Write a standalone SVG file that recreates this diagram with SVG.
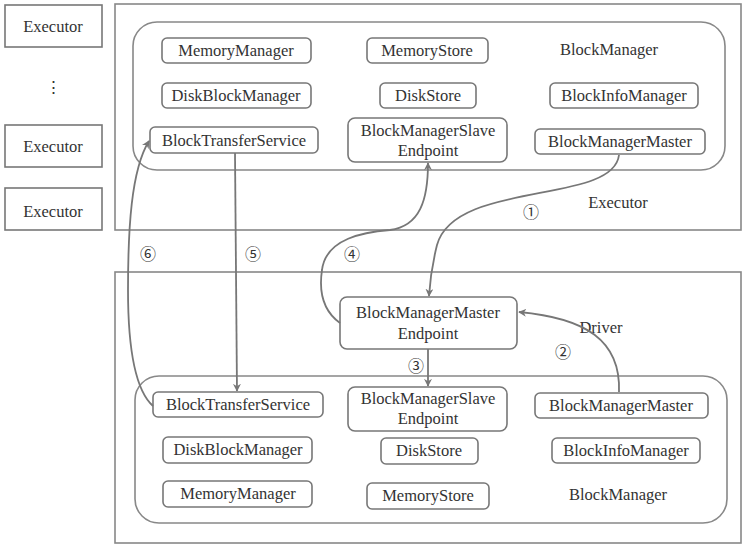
<svg xmlns="http://www.w3.org/2000/svg" width="749" height="552" viewBox="0 0 749 552">
<defs>
<style>
.t{font-family:'Liberation Serif','DejaVu Serif',serif;font-size:16.5px;fill:#333;text-anchor:middle}
.c{font-family:'Noto Sans CJK SC','DejaVu Sans',sans-serif;font-size:16px;fill:#333;text-anchor:middle}
.b{fill:#fff;stroke:#777;stroke-width:1.6}
.o{fill:none;stroke:#888;stroke-width:1.6}
.l{fill:none;stroke:#777;stroke-width:1.8}
</style>
<marker id="ah" viewBox="0 0 10 10" refX="9" refY="5" markerWidth="8" markerHeight="8" orient="auto" markerUnits="userSpaceOnUse">
<path d="M0,0 L10,5 L0,10 L3,5 z" fill="#777"/>
</marker>
</defs>
<rect width="749" height="552" fill="#fff"/>

<g id="exec1"><rect class="b" x="5" y="5" width="97" height="42"/><text class="t" x="53" y="32">Executor</text></g>
<g id="dots"><text class="t" x="53" y="93">⋮</text></g>
<g id="exec2"><rect class="b" x="5" y="125" width="97" height="42"/><text class="t" x="53" y="152">Executor</text></g>
<g id="exec3"><rect class="b" x="5" y="188" width="97" height="42"/><text class="t" x="53" y="217">Executor</text></g>

<g id="executorTop">
<rect class="o" x="115" y="4" width="626" height="226"/>
<rect class="o" x="133" y="22" width="592" height="148" rx="24"/>
<text class="t" x="609" y="55">BlockManager</text>
<text class="t" x="618" y="208">Executor</text>
</g>
<g id="t-mm"><rect class="b" x="162" y="38" width="149" height="25" rx="5"/><text class="t" x="236" y="56">MemoryManager</text></g>
<g id="t-dbm"><rect class="b" x="162" y="83" width="149" height="25" rx="5"/><text class="t" x="236" y="101">DiskBlockManager</text></g>
<g id="t-bts"><rect class="b" x="150" y="127" width="168" height="26" rx="5"/><text class="t" x="234" y="146">BlockTransferService</text></g>
<g id="t-ms"><rect class="b" x="367" y="38" width="121" height="25" rx="5"/><text class="t" x="427" y="56">MemoryStore</text></g>
<g id="t-ds"><rect class="b" x="380" y="83" width="96" height="25" rx="5"/><text class="t" x="428" y="101">DiskStore</text></g>
<g id="t-bmse"><rect class="b" x="348" y="118" width="159" height="44" rx="7"/><text class="t" x="428" y="136">BlockManagerSlave</text><text class="t" x="428" y="156">Endpoint</text></g>
<g id="t-bim"><rect class="b" x="550" y="83" width="148" height="25" rx="5"/><text class="t" x="624" y="101">BlockInfoManager</text></g>
<g id="t-bmm"><rect class="b" x="535" y="129" width="170" height="25" rx="5"/><text class="t" x="620" y="147">BlockManagerMaster</text></g>

<g id="driver">
<rect class="o" x="115" y="272" width="626" height="271"/>
<rect class="o" x="135" y="376" width="592" height="147" rx="24"/>
<text class="t" x="618" y="500">BlockManager</text>
<text class="t" x="601" y="333">Driver</text>
</g>
<g id="d-bmme"><rect class="b" x="340" y="297" width="177" height="52" rx="7"/><text class="t" x="428" y="318">BlockManagerMaster</text><text class="t" x="428" y="339">Endpoint</text></g>
<g id="d-bts"><rect class="b" x="153" y="392" width="170" height="25" rx="5"/><text class="t" x="238" y="410">BlockTransferService</text></g>
<g id="d-dbm"><rect class="b" x="163" y="437" width="149" height="26" rx="5"/><text class="t" x="238" y="455">DiskBlockManager</text></g>
<g id="d-mm"><rect class="b" x="163" y="481" width="149" height="26" rx="5"/><text class="t" x="238" y="499">MemoryManager</text></g>
<g id="d-bmse"><rect class="b" x="348" y="387" width="159" height="44" rx="7"/><text class="t" x="428" y="404">BlockManagerSlave</text><text class="t" x="428" y="424">Endpoint</text></g>
<g id="d-ds"><rect class="b" x="381" y="438" width="97" height="26" rx="5"/><text class="t" x="429" y="456">DiskStore</text></g>
<g id="d-ms"><rect class="b" x="367" y="483" width="122" height="26" rx="5"/><text class="t" x="428" y="501">MemoryStore</text></g>
<g id="d-bmm"><rect class="b" x="535" y="393" width="173" height="25" rx="5"/><text class="t" x="621" y="411">BlockManagerMaster</text></g>
<g id="d-bim"><rect class="b" x="552" y="438" width="148" height="25" rx="5"/><text class="t" x="626" y="456">BlockInfoManager</text></g>

<g id="connectors">
<path class="l" marker-end="url(#ah)" d="M619 155 C613 205, 455 180, 437 245 C432 265, 430 280, 429 296"/>
<path class="l" marker-end="url(#ah)" d="M619 392 C621 340, 585 318, 519 312"/>
<path class="l" marker-end="url(#ah)" d="M428 349 L428 386"/>
<path class="l" marker-end="url(#ah)" d="M340 323 C322 310, 319 290, 322 270 C326 238, 365 232, 390 230 C420 226, 428 200, 428 163"/>
<path class="l" marker-end="url(#ah)" d="M235 153 L237 391"/>
<path class="l" marker-end="url(#ah)" d="M153 406 C135 390, 128 350, 128 290 C128 230, 131 170, 149 141"/>
<text class="c" x="531" y="218">①</text>
<text class="c" x="563" y="358">②</text>
<text class="c" x="416" y="372">③</text>
<text class="c" x="352" y="260">④</text>
<text class="c" x="253" y="260">⑤</text>
<text class="c" x="148" y="260">⑥</text>
</g>
</svg>
